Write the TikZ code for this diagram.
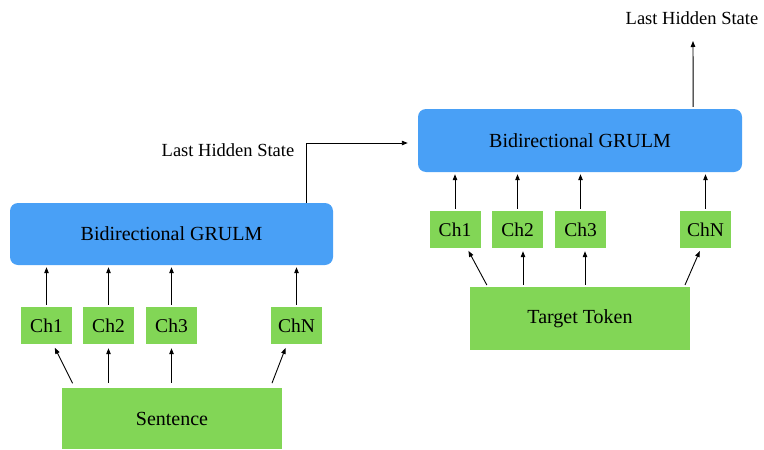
\documentclass[tikz,border=0pt]{standalone}
\usepackage{fontspec}
\setmainfont{Liberation Serif}
\usetikzlibrary{arrows.meta,calc}
\definecolor{gblue}{RGB}{73,160,246}
\definecolor{ggreen}{RGB}{130,214,86}
\begin{document}
\begin{tikzpicture}[x=1pt,y=-1pt,
  bluebox/.style={fill=gblue,draw=none,rounded corners=8pt,minimum width=323pt,minimum height=62pt,inner sep=0pt,font=\fontsize{20}{23}\selectfont},
  chbox/.style={fill=ggreen,draw=none,minimum width=51pt,minimum height=37pt,inner sep=0pt,font=\fontsize{19.5}{22}\selectfont},
  srcbox/.style={fill=ggreen,draw=none,minimum width=220pt,minimum height=62pt,inner sep=0pt,font=\fontsize{20}{23}\selectfont},
  lbl/.style={font=\fontsize{18.5}{21}\selectfont,inner sep=0pt},
  arr/.style={line width=0.9pt,-{Triangle[length=6pt,width=4.5pt]}}]
\useasboundingbox (0,0) rectangle (764,450);
% left
\node[bluebox] (lb) at (171.5,234) {Bidirectional GRULM};
\node[chbox] (l1) at (46.5,325.5) {Ch1};
\node[chbox] (l2) at (108.5,325.5) {Ch2};
\node[chbox] (l3) at (171.5,325.5) {Ch3};
\node[chbox] (ln) at (296.5,325.5) {ChN};
\node[srcbox,minimum height=61pt] (s) at (172,418.5) {Sentence};
% right
\node[bluebox,minimum width=324pt,minimum height=63pt] (rb) at (580,140.5) {Bidirectional GRULM};
\node[chbox] (r1) at (455,229.5) {Ch1};
\node[chbox] (r2) at (517.5,229.5) {Ch2};
\node[chbox] (r3) at (580.5,229.5) {Ch3};
\node[chbox] (rn) at (705.5,229.5) {ChN};
\node[srcbox,minimum height=63pt] (t) at (580,318.5) {Target Token};
% labels
\node[lbl] (lh1) at (228,150) {Last Hidden State};
\node[lbl] (lh2) at (692,18) {Last Hidden State};
\coordinate (top) at (693,41);
% left arrows
\foreach \c in {l1,l2,l3,ln}{
  \draw[arr,shorten <=2pt,shorten >=2pt] (\c.north) -- (\c.north |- lb.south);
}
\draw[arr,shorten <=5pt,shorten >=4pt] ([xshift=13pt]s.north west) -- ([xshift=6.5pt]l1.south);
\draw[arr,shorten <=5pt,shorten >=4pt] (s.north -| l2.south) -- (l2.south);
\draw[arr,shorten <=5pt,shorten >=4pt] (s.north -| l3.south) -- (l3.south);
\draw[arr,shorten <=5pt,shorten >=4pt] ([xshift=-12pt]s.north east) -- ([xshift=-9.5pt]ln.south);
% right arrows
\foreach \c in {r1,r2,r3,rn}{
  \draw[arr,shorten <=2pt,shorten >=2pt] (\c.north) -- (\c.north |- rb.south);
}
\draw[arr,shorten <=2pt,shorten >=3pt] ([xshift=18pt]t.north west) -- ([xshift=12pt]r1.south);
\draw[arr,shorten <=2pt,shorten >=3pt] ([xshift=5.5pt]t.north -| r2.south) -- ([xshift=5.5pt]r2.south);
\draw[arr,shorten <=2pt,shorten >=3pt] ([xshift=4.5pt]t.north -| r3.south) -- ([xshift=4.5pt]r3.south);
\draw[arr,shorten <=2pt,shorten >=3pt] ([xshift=-6pt]t.north east) -- ([xshift=-4.5pt]rn.south);
% connectors
\draw[arr] ([xshift=-27pt]lb.north east) |- ([xshift=-10pt,yshift=-2.5pt]rb.west);
\draw[arr,shorten <=2pt] ([xshift=-49pt]rb.north east) -- (top);
\end{tikzpicture}
\end{document}
